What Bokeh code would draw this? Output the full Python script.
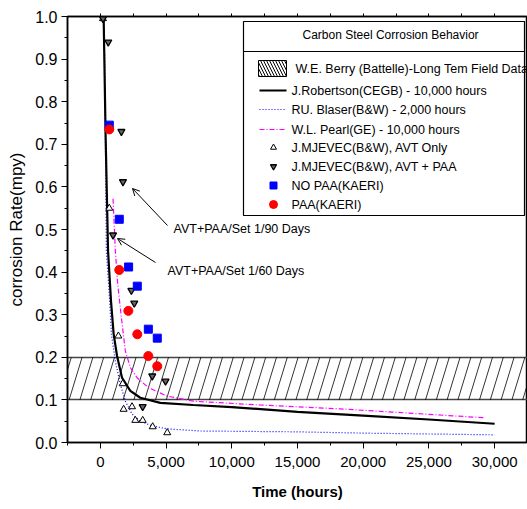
from bokeh.plotting import figure
from bokeh.models import (Range1d, LinearAxis, NumeralTickFormatter, SingleIntervalTicker, FixedTicker,
                          Arrow, OpenHead)
from bokeh.embed import file_html
from bokeh.resources import INLINE
from bokeh.core.properties import value

# ---------------- data ----------------
rob_t = [250, 400, 585, 810, 1010, 1270, 1650, 2280, 3040, 4560, 7070, 10000, 15000, 20000, 25000, 30000]
rob_y = [1.0, 0.72, 0.45, 0.332, 0.255, 0.203, 0.152, 0.121, 0.105, 0.093, 0.088, 0.083, 0.072, 0.063, 0.054, 0.044]

bla_t = [330, 455, 710, 840, 1140, 1520, 1900, 2410, 3040, 3930, 5070, 7600, 15000, 20000, 30000]
bla_y = [0.91, 0.45, 0.332, 0.255, 0.191, 0.137, 0.097, 0.067, 0.050, 0.039, 0.032, 0.027, 0.025, 0.022, 0.018]

pea_t = [965, 1140, 1320, 1600, 1900, 2280, 2790, 3650, 5070, 7070, 12160, 18240, 24000, 29250]
pea_y = [0.572, 0.45, 0.372, 0.293, 0.215, 0.176, 0.152, 0.129, 0.109, 0.097, 0.088, 0.079, 0.068, 0.058]

avt_t = [200, 680, 1370, 1700, 1770, 2410, 2660, 3220, 3980, 5090]
avt_y = [0.995, 0.55, 0.25, 0.138, 0.078, 0.084, 0.052, 0.052, 0.037, 0.023]

paa_t = [200, 600, 1600, 1720, 965, 2360, 2580, 3950, 4960, 3220]
paa_y = [0.995, 0.94, 0.73, 0.612, 0.487, 0.357, 0.327, 0.156, 0.144, 0.084]

nopaa_k_t = [680, 1440, 2150, 2810, 3650, 4330]
nopaa_k_y = [0.745, 0.524, 0.412, 0.367, 0.266, 0.245]

paa_k_t = [680, 1440, 2130, 2810, 3650, 4330]
paa_k_y = [0.735, 0.405, 0.309, 0.254, 0.203, 0.179]

band_lo, band_hi = 0.1, 0.2

x_ticks_interval = 5000
y_ticks_interval = 0.1

legend_title = "Carbon Steel Corrosion Behavior"
legend_labels = ["W.E. Berry (Battelle)-Long Tem Field Data",
                 "J.Robertson(CEGB) - 10,000 hours",
                 "RU. Blaser(B&W) - 2,000 hours",
                 "W.L. Pearl(GE) - 10,000 hours",
                 "J.MJEVEC(B&W), AVT Only",
                 "J.MJEVEC(B&W), AVT + PAA",
                 "NO PAA(KAERI)",
                 "PAA(KAERI)"]

note_texts = ["AVT+PAA/Set 1/90 Days", "AVT+PAA/Set 1/60 Days"]

# ---------------- layout ----------------
FONT = "Liberation Sans"
X0, X1 = -2500, 32500
Y0, Y1 = 0.0, 1.0
W, H = 527, 509
BL, BR, BT, BB = 67, 0, 16, 67
FL, FT = BL, BT
FW, FH = W - BL - BR, H - BT - BB

PEARL_DASH = "5 2 1 2"
BLASER_DASH = "1 2"


def px(xp, yp):
    """page pixel -> data coordinates (for legend / annotation layout)"""
    return (X0 + (xp - FL) / FW * (X1 - X0), Y1 - (yp - FT) / FH * (Y1 - Y0))


def pxx(xp):
    return px(xp, 0)[0]


def pxy(yp):
    return px(0, yp)[1]


p = figure(width=W, height=H, x_range=Range1d(X0, X1), y_range=Range1d(Y0, Y1),
           output_backend="svg", toolbar_location=None,
           min_border_left=BL, min_border_right=BR, min_border_top=BT, min_border_bottom=BB)
p.grid.visible = False
p.outline_line_color = "black"
p.outline_line_width = 1.5
p.background_fill_color = "white"
p.border_fill_color = "white"

# axes
xax = p.xaxis[0]
xax.ticker = SingleIntervalTicker(interval=x_ticks_interval, num_minor_ticks=2)
xax.formatter = NumeralTickFormatter(format="0,0")
yax = p.yaxis[0]
yax.ticker = SingleIntervalTicker(interval=y_ticks_interval, num_minor_ticks=2)
yax.formatter = NumeralTickFormatter(format="0.0")
for ax in (xax, yax):
    ax.axis_line_width = 1.5
    ax.axis_line_color = "black"
    ax.major_tick_out = 6
    ax.major_tick_in = 0
    ax.minor_tick_out = 3
    ax.minor_tick_in = 0
    ax.major_tick_line_color = "black"
    ax.minor_tick_line_color = "black"
    ax.major_label_text_font = FONT
    ax.major_label_text_color = "black"
    ax.axis_label_text_font = FONT
    ax.axis_label_text_color = "black"
xax.major_label_text_font_size = "15px"
yax.major_label_text_font_size = "16px"
xax.axis_label = "Time (hours)"
xax.axis_label_text_font_style = "bold"
xax.axis_label_text_font_size = "15px"
xax.axis_label_standoff = 13
xax.major_label_standoff = 8
yax.axis_label = "corrosion Rate(mpy)"
yax.axis_label_text_font_style = "normal"
yax.axis_label_text_font_size = "17px"
yax.axis_label_standoff = 6
yax.major_label_standoff = 4

top_minor = [X0 + k * x_ticks_interval / 2 for k in range(1, 14)]
top = LinearAxis(ticker=FixedTicker(ticks=[], minor_ticks=top_minor))
top.minor_tick_out = 3
top.minor_tick_in = 0
top.minor_tick_line_color = "black"
top.major_label_standoff = 0
top.axis_line_width = 1.5
p.add_layout(top, "above")

# hatched band: outline + steep diagonal hatch lines
p.hstrip(y0=[band_lo], y1=[band_hi], fill_color=None, line_color="#444444", line_width=1.5)
hatch_step_px, hatch_lean_px = 10.8, 13.0
hx0, hx1 = [], []
k = 0
while FL - 20 + k * hatch_step_px < W + 20:
    xb = FL - 20 + k * hatch_step_px
    hx0.append(pxx(xb))
    hx1.append(pxx(xb + hatch_lean_px))
    k += 1
p.segment(x0=hx0, x1=hx1, y0=[band_lo] * len(hx0), y1=[band_hi] * len(hx0),
          line_color="black", line_width=0.8)

# curves
p.line(pea_t, pea_y, line_color="#ff00ff", line_width=1.2, line_dash=PEARL_DASH)
p.line(bla_t, bla_y, line_color="#0000ff", line_width=1.2, line_dash=BLASER_DASH)
p.line(rob_t, rob_y, line_color="black", line_width=2.2)

# markers
p.scatter(avt_t, avt_y, marker="triangle", size=7, fill_color="white", line_color="black", line_width=1)
p.scatter(paa_t, paa_y, marker="inverted_triangle", size=7, fill_color="#666666", line_color="black", line_width=1.3)
p.scatter(nopaa_k_t, nopaa_k_y, marker="square", size=8, fill_color="#0000ff", line_color="#0000ff")
p.scatter(paa_k_t, paa_k_y, marker="circle", size=9, fill_color="#ff0000", line_color="#ff0000")

# annotations (arrows + text)
ax1s, ay1s = px(167, 225)
ax1e, ay1e = px(132, 188)
ax2s, ay2s = px(155, 262)
ax2e, ay2e = px(117, 238)
for xs, ys, xe, ye in [(ax1s, ay1s, ax1e, ay1e), (ax2s, ay2s, ax2e, ay2e)]:
    p.add_layout(Arrow(x_start=xs, y_start=ys, x_end=xe, y_end=ye, line_width=1, line_color="black",
                       end=OpenHead(size=7, line_width=1, line_color="black")))
nx1, ny1 = px(173, 228)
nx2, ny2 = px(167, 270)
p.text(x=[nx1, nx2], y=[ny1, ny2], text=note_texts, text_font=value(FONT),
       text_font_size=value("12.5px"), text_baseline="middle", text_align="left", text_color="black")

# ---------------- legend (drawn manually) ----------------
lx0, lx1 = pxx(243), pxx(524)
ly0, ly1 = pxy(21), pxy(215)
p.quad(left=[lx0], right=[lx1], top=[ly0], bottom=[ly1], fill_color="white", line_color="black", line_width=1.2)
p.segment(x0=[lx0], x1=[lx1], y0=[pxy(51)], y1=[pxy(51)], line_color="black", line_width=1.2)
p.text(x=[pxx(302)], y=[pxy(34)], text=[legend_title], text_font=value(FONT), text_font_size=value("12px"),
       text_baseline="middle", text_align="left", text_color="black")

rows = [68, 90, 109, 129, 147, 166, 185, 204]
# swatch
p.quad(left=[pxx(258)], right=[pxx(286)], top=[pxy(60)], bottom=[pxy(76)], fill_color="white",
       hatch_pattern="\\", hatch_color="black", hatch_scale=6, hatch_weight=1,
       line_color="black", line_width=1)
# line samples
p.line([pxx(259), pxx(286)], [pxy(rows[1])] * 2, line_color="black", line_width=2.2)
p.line([pxx(259), pxx(286)], [pxy(rows[2])] * 2, line_color="#0000ff", line_width=1.2, line_dash=BLASER_DASH)
p.line([pxx(259), pxx(286)], [pxy(rows[3])] * 2, line_color="#ff00ff", line_width=1.2, line_dash=PEARL_DASH)
# marker samples
mx = pxx(273)
p.scatter([mx], [pxy(rows[4])], marker="triangle", size=6, fill_color="white", line_color="black")
p.scatter([mx], [pxy(rows[5])], marker="inverted_triangle", size=6, fill_color="#666666", line_color="black", line_width=1.3)
p.scatter([mx], [pxy(rows[6])], marker="square", size=7, fill_color="#0000ff", line_color="#0000ff")
p.scatter([mx], [pxy(rows[7])], marker="circle", size=8, fill_color="#ff0000", line_color="#ff0000")

text_x = [pxx(295)] + [pxx(291)] * 7
p.text(x=text_x, y=[pxy(r) for r in rows], text=legend_labels, text_font=value(FONT),
       text_font_size=value("12.5px"), text_baseline="middle", text_align="left", text_color="black")

open("out.html", "w").write(file_html(p, INLINE))
